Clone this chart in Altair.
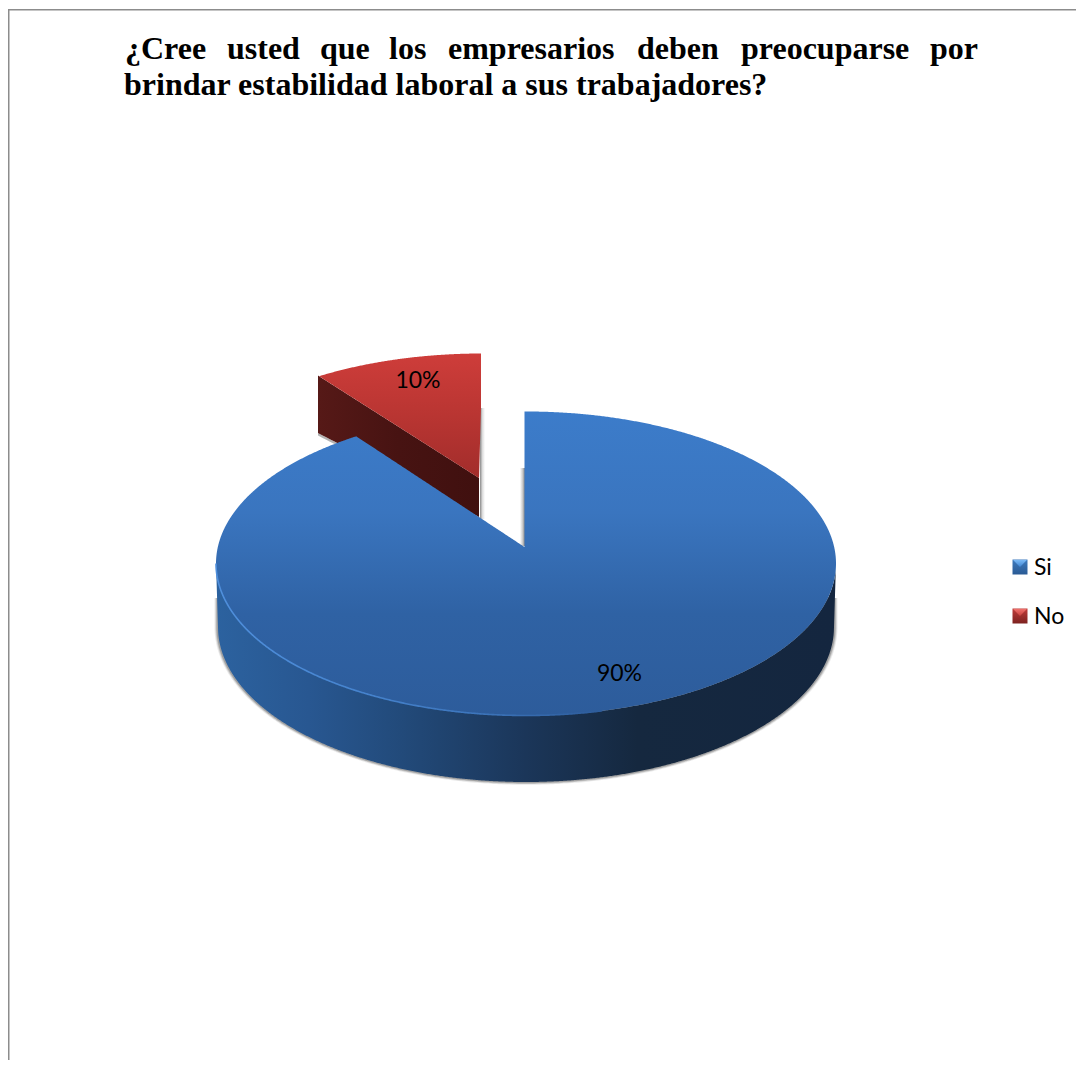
import altair as alt
import numpy as np
import pandas as pd

# ---- chart values ----
LABELS = ["Si", "No"]
SHARES = [90, 10]
TITLE_LINE_1 = ["¿Cree", "usted", "que", "los", "empresarios", "deben", "preocuparse", "por"]
TITLE_LINE_2 = "brindar estabilidad laboral a sus trabajadores?"

# ---- layout (page pixels) ----
W, H = 1068, 1052
PAGE = 8
CX, CY, RX, RY = 526.0, 563.5, 310.0, 152.0
WORD_X = [125, 227, 320, 389, 448, 637, 741, 930]
SERIF = "Liberation Serif"
SANS = "Lato"


def ux(px):
    return (np.asarray(px, dtype=float) - CX) / RX


def vy(py):
    return (CY - np.asarray(py, dtype=float)) / RY


X = alt.X("x:Q", axis=None, scale=alt.Scale(domain=[float(ux(PAGE)), float(ux(PAGE + W))], nice=False, zero=False))
Y = alt.Y("y:Q", axis=None, scale=alt.Scale(domain=[float(vy(PAGE + H)), float(vy(PAGE))], nice=False, zero=False))


def grad(stops, horizontal=False):
    n = len(stops) - 1
    parsed = [(s if isinstance(s, tuple) else (i / n, s)) for i, s in enumerate(stops)]
    return alt.LinearGradient(
        gradient="linear",
        stops=[alt.GradientStop(offset=o, color=c) for o, c in parsed],
        x1=0, x2=1 if horizontal else 0, y1=0, y2=0 if horizontal else 1,
    )


def band(x, top, bottom, fill, opacity=1.0):
    df = pd.DataFrame({"x": x, "y": top, "y2": bottom})
    return alt.Chart(df).mark_area(fill=fill, opacity=opacity, orient="vertical", strokeWidth=0).encode(
        x=X, y=Y, y2="y2:Q"
    )


def strip(x0, x1, y0, y1, fill):
    df = pd.DataFrame({"x": [float(ux(x0))], "x2": [float(ux(x1))], "y": [float(vy(y0))], "y2": [float(vy(y1))]})
    return alt.Chart(df).mark_rect(fill=fill, strokeWidth=0).encode(x=X, x2="x2:Q", y=Y, y2="y2:Q")


def line(p0, p1, x):
    return p0[1] + (p1[1] - p0[1]) * (x - p0[0]) / (p1[0] - p0[0])


# ---- pie geometry from the shares ----
PERSPECTIVE = 2.8  # degrees the foreshortening adds to the large slice
sweep = 360 * SHARES[0] / sum(SHARES) + PERSPECTIVE
tip_angle = np.radians(sweep)
tip = (float(np.sin(tip_angle)), float(np.cos(tip_angle)))
apex = (float(ux(524.5)), float(vy(547)))

grid = -np.cos(np.linspace(0, np.pi, 721))
edge = np.sqrt(np.clip(1 - grid ** 2, 0, 1))

# Blue top face (the radial edges meet the rim; x stays strictly increasing)
EPS = 1e-5
xs = np.sort(np.concatenate([grid, [tip[0], apex[0] - EPS, apex[0] + EPS]]))
upper = np.sqrt(np.clip(1 - xs ** 2, 0, 1))
inside = (xs >= tip[0]) & (xs <= apex[0])
upper[inside] = line(tip, apex, xs[inside])
lower = -np.sqrt(np.clip(1 - xs ** 2, 0, 1))
blue_top = band(xs, upper, lower, grad(["#3c7cca", "#3a75bf", "#2f62a4", "#2d5c9b"]))

# Blue wall: lower rim is a slightly narrower ellipse, joined to the top rim by a short straight edge
WALL_RX, WALL_RY, WALL_CY = 308.0, 155.0, 627.0
ratio = WALL_RX / RX
wu = np.clip(grid, -ratio, ratio)
wall_low = vy(WALL_CY + WALL_RY * np.sqrt(np.clip(1 - (wu / ratio) ** 2, 0, 1)))
outer = np.abs(grid) > ratio
wall_low[outer] = float(vy(WALL_CY)) * (1 - np.abs(grid[outer])) / (1 - ratio)
blue_wall = band(
    grid, -edge, wall_low,
    grad([(0, "#2c629f"), (0.15, "#285791"), (0.3, "#224a7a"), (0.5, "#1b3659"), (0.68, "#15283f"), (1, "#14263f")], horizontal=True),
)

# Soft shadow hugging the wall's lower rim
shadows = []
for grow, op in [(3.5, 0.12), (2.5, 0.22), (1.5, 0.35)]:
    ra, rb = WALL_RX + grow, WALL_RY + grow * 0.8
    gx = -np.cos(np.linspace(0, np.pi, 361)) * ra / RX
    rim = vy(WALL_CY + rb * np.sqrt(np.clip(1 - (gx * RX / ra) ** 2, 0, 1)))
    flat = np.full_like(gx, float(vy(598)))
    shadows.append(band(gx, flat, rim, "#555555", op))

# Red exploded slice
SHIFT_X, SHIFT_Y = -44.0, -58.0
du, dv = SHIFT_X / RX, -SHIFT_Y / RY
tl = (float(ux(318)), float(vy(375.5)))
tr_x = float(ux(481))
red_apex = (float(ux(479)), float(vy(478)))
rx_grid = np.linspace(tl[0], tr_x, 161)
rx_grid = np.sort(np.append(rx_grid, red_apex[0]))
arc = dv + np.sqrt(np.clip(1 - (rx_grid - du) ** 2, 0, 1))
arc[0] = tl[1]
tr = (tr_x, float(arc[-1]))
red_low = np.where(rx_grid <= red_apex[0], line(tl, red_apex, rx_grid), line(red_apex, (tr[0], float(vy(408))), rx_grid))
red_top = band(rx_grid, arc, red_low, grad(["#ce3d3a", "#b93532", "#a22d2b"]))

side_x = np.linspace(tl[0], red_apex[0], 40)
bl = (tl[0], float(vy(433)))
br = (red_apex[0], float(vy(517)))
red_side = band(side_x, line(tl, red_apex, side_x), line(bl, br, side_x),
                grad(["#561917", "#471312", "#40100f"], horizontal=True))
red_side_shadow = band(side_x, line(bl, br, side_x), line(bl, br, side_x) - 2.5 / RY, "#a0a0a0", 0.8)

# Narrow shadows in the gap between the slices
fade_r = grad(["#8a8a8a", "#dddddd", "#ffffff"], horizontal=True)
fade_l = grad(["#ffffff", "#cccccc", "#808080"], horizontal=True)
gap_shadow_red = strip(480, 485, 408, 519, fade_r)
gap_shadow_blue = strip(520, 525, 468, 546, fade_l)

# Light rim on the front-left of the top face
rim_mask = grid <= 0.25
rim_df = pd.DataFrame({"x": grid[rim_mask], "y": -edge[rim_mask]})
rim = alt.Chart(rim_df).mark_line(
    stroke=grad(["#4f8fdc", "#4785d0", "#3d76bd", "#2d5c9b"], horizontal=True), strokeWidth=1.6
).encode(x=X, y=Y)

# ---- frame ----
frame_left = alt.Chart(pd.DataFrame({"a": [0]})).mark_rule(color="#8c8c8c", strokeWidth=1.5).encode(
    x=alt.value(0.75), y=alt.value(2), y2=alt.value(H)
)
frame_top = alt.Chart(pd.DataFrame({"a": [0]})).mark_rule(color="#8c8c8c", strokeWidth=1.5).encode(
    x=alt.value(0), x2=alt.value(W), y=alt.value(1.7)
)


def text(value, px, py, size, font, weight="normal", align="left", baseline="alphabetic", color="#000000"):
    return alt.Chart(pd.DataFrame({"t": [value]})).mark_text(
        font=font, fontSize=size, fontWeight=weight, align=align, baseline=baseline, color=color
    ).encode(text="t:N", x=alt.value(px - PAGE), y=alt.value(py - PAGE))


title_layers = [text(w, x, 59, 32, SERIF, "bold") for w, x in zip(TITLE_LINE_1, WORD_X)]
title_layers.append(text(TITLE_LINE_2, 124, 95, 32, SERIF, "bold"))

data_labels = [
    text(f"{SHARES[0]}%", 619.5, 681, 23, SANS, align="center"),
    text(f"{SHARES[1]}%", 418, 388, 23, SANS, align="center"),
]

# ---- legend ----
legend_layers = []
ICONS = [
    (grad(["#3e7bbe", "#2a5a94"]), grad(["#79b8f5", "#3f85d2"]), 567),
    (grad(["#bf3c3a", "#7d2220"]), grad(["#ee706b", "#c8403c"]), 616),
]
for label, (body, cap, py) in zip(LABELS, ICONS):
    src = pd.DataFrame({"label": [label]})
    legend_layers.append(
        alt.Chart(src).mark_point(shape="square", filled=True, fill=body, size=225, opacity=1, strokeWidth=0).encode(
            x=alt.value(1020 - PAGE), y=alt.value(py - PAGE))
    )
    legend_layers.append(
        alt.Chart(src).mark_point(shape="M-1,-1L1,-1L0,0Z", filled=True, fill=cap, size=190, opacity=1, strokeWidth=0).encode(
            x=alt.value(1020 - PAGE), y=alt.value(py - PAGE))
    )
    legend_layers.append(text(label, 1034, py + 8, 23, SANS))

chart = alt.layer(
    frame_left, frame_top,
    *shadows,
    gap_shadow_red, gap_shadow_blue,
    red_side_shadow, red_side, red_top,
    blue_wall, blue_top, rim,
    *data_labels, *title_layers, *legend_layers,
).properties(
    width=W, height=H, padding=0, autosize=alt.AutoSizeParams(type="none")
).configure_view(stroke=None).resolve_scale(x="shared", y="shared")

chart.save("out.html", embed_options={"renderer": "svg", "actions": False})
